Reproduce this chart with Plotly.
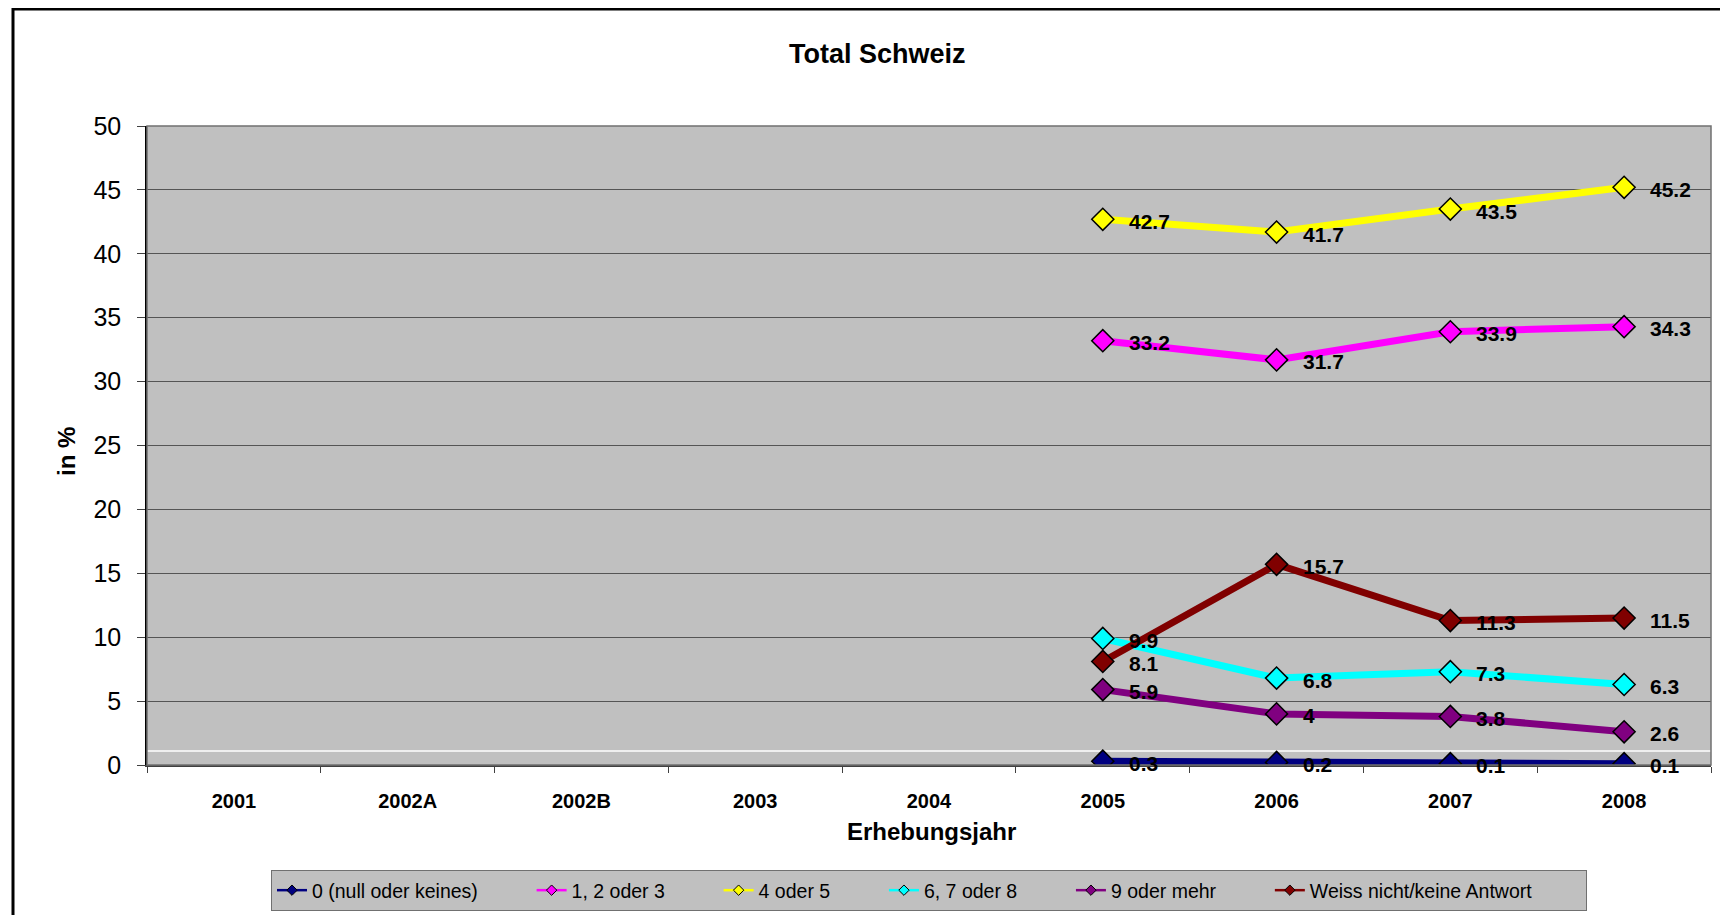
import plotly.graph_objects as go

# categories on the x axis
years = ["2001", "2002A", "2002B", "2003", "2004", "2005", "2006", "2007", "2008"]
survey_years = ["2005", "2006", "2007", "2008"]

# values in %
keines = [0.3, 0.2, 0.1, 0.1]
eins_bis_drei = [33.2, 31.7, 33.9, 34.3]
vier_fuenf = [42.7, 41.7, 43.5, 45.2]
sechs_bis_acht = [9.9, 6.8, 7.3, 6.3]
neun_mehr = [5.9, 4, 3.8, 2.6]
weiss_nicht = [8.1, 15.7, 11.3, 11.5]

series_names = ["0 (null oder keines)", "1, 2 oder 3", "4 oder 5",
                "6, 7 oder 8", "9 oder mehr", "Weiss nicht/keine Antwort"]
series_values = [keines, eins_bis_drei, vier_fuenf, sechs_bis_acht, neun_mehr, weiss_nicht]
series_colors = ["#000080", "#FF00FF", "#FFFF00", "#00FFFF", "#800080", "#800000"]

y_ticks = [0, 5, 10, 15, 20, 25, 30, 35, 40, 45, 50]

# the page body adds an 8px margin, so the figure is laid out in screen pixels minus 8
# (figure is taller than the window so the legend never pushes the bottom margin)
OFF = 8
W, H = 1720, 925
L, R, T, B = 139, 17, 118, 168
PW, PH = W - L - R, H - T - B
FONT = "Arial, Liberation Sans, sans-serif"


def px_x(sx):
    return (sx - OFF - L) / PW


def px_y(sy):
    return (H - B - (sy - OFF)) / PH


fig = go.Figure()

for name, vals, color in zip(series_names, series_values, series_colors):
    fig.add_trace(go.Scatter(
        x=survey_years, y=vals, mode="lines+markers", name=name, showlegend=False,
        line=dict(color=color, width=7),
        marker=dict(symbol="diamond", size=17, color=color, line=dict(color="black", width=1.5)),
        hoverinfo="x+y+name",
    ))
    for xv, yv in zip(survey_years, vals):
        fig.add_annotation(x=years.index(xv), y=yv, text=f"{yv:g}", showarrow=False,
                           xanchor="left", yanchor="middle", xshift=24, yshift=-2,
                           font=dict(family=FONT, size=21, color="black", weight="bold"))

# legend entries with small symbols, like the original
pad = "\u00a0" * 9
for name, color in zip(series_names, series_colors):
    fig.add_trace(go.Scatter(
        x=[None], y=[None], mode="lines+markers", name=name + pad,
        line=dict(color=color, width=2.5),
        marker=dict(symbol="diamond", size=8, color=color, line=dict(color="black", width=1)),
    ))

# odd white line just above zero in the source chart
fig.add_shape(type="line", xref="paper", yref="y", x0=0, x1=1, y0=1.1, y1=1.1,
              line=dict(color="white", width=1.5), layer="below")
# plot area border
fig.add_shape(type="rect", xref="paper", yref="paper", x0=0, x1=1, y0=0, y1=1,
              line=dict(color="#707070", width=1.5))
# outer chart frame
fig.add_shape(type="rect", xref="paper", yref="paper",
              x0=px_x(13), x1=px_x(1725), y0=px_y(940), y1=px_y(9),
              line=dict(color="black", width=3))

fig.add_annotation(xref="paper", yref="paper", x=px_x(877), y=px_y(54), text="Total Schweiz",
                   showarrow=False, xanchor="center", yanchor="middle",
                   font=dict(family=FONT, size=27, color="black", weight="bold"))
fig.add_annotation(xref="paper", yref="paper", x=px_x(931), y=px_y(831), text="Erhebungsjahr",
                   showarrow=False, xanchor="center", yanchor="middle",
                   font=dict(family=FONT, size=24, color="black", weight="bold"))
fig.add_annotation(xref="paper", yref="paper", x=px_x(66), y=px_y(452), text="in %",
                   textangle=-90, showarrow=False, xanchor="center", yanchor="middle",
                   font=dict(family=FONT, size=24, color="black", weight="bold"))

fig.update_layout(
    width=W, height=H,
    margin=dict(l=L, r=R, t=T, b=B),
    paper_bgcolor="white",
    plot_bgcolor="#C0C0C0",
    font=dict(family=FONT, color="black"),
    legend=dict(
        orientation="h", x=0.5, xanchor="center", y=px_y(911), yanchor="bottom",
        bgcolor="#C0C0C0", bordercolor="#707070", borderwidth=1,
        font=dict(family=FONT, size=19.5, color="black"),
    ),
)
fig.update_xaxes(
    type="category", categoryorder="array", categoryarray=years, range=[-0.5, 8.5],
    tickvals=years, ticktext=years,
    tickson="boundaries", ticks="outside", ticklen=6, tickcolor="#404040",
    showgrid=False, zeroline=False, showline=True, linecolor="#404040", linewidth=1.5,
    tickfont=dict(family=FONT, size=20, color="black", weight="bold"),
    ticklabelstandoff=17,
)
fig.update_yaxes(
    range=[0, 50], tickvals=y_ticks, ticks="outside", ticklen=8, tickcolor="#404040",
    showgrid=True, gridcolor="#555555", gridwidth=1, zeroline=False,
    showline=True, linecolor="black", linewidth=1.5,
    tickfont=dict(family=FONT, size=25, color="black"),
    ticklabelstandoff=11,
)

fig.write_html("out.html")
